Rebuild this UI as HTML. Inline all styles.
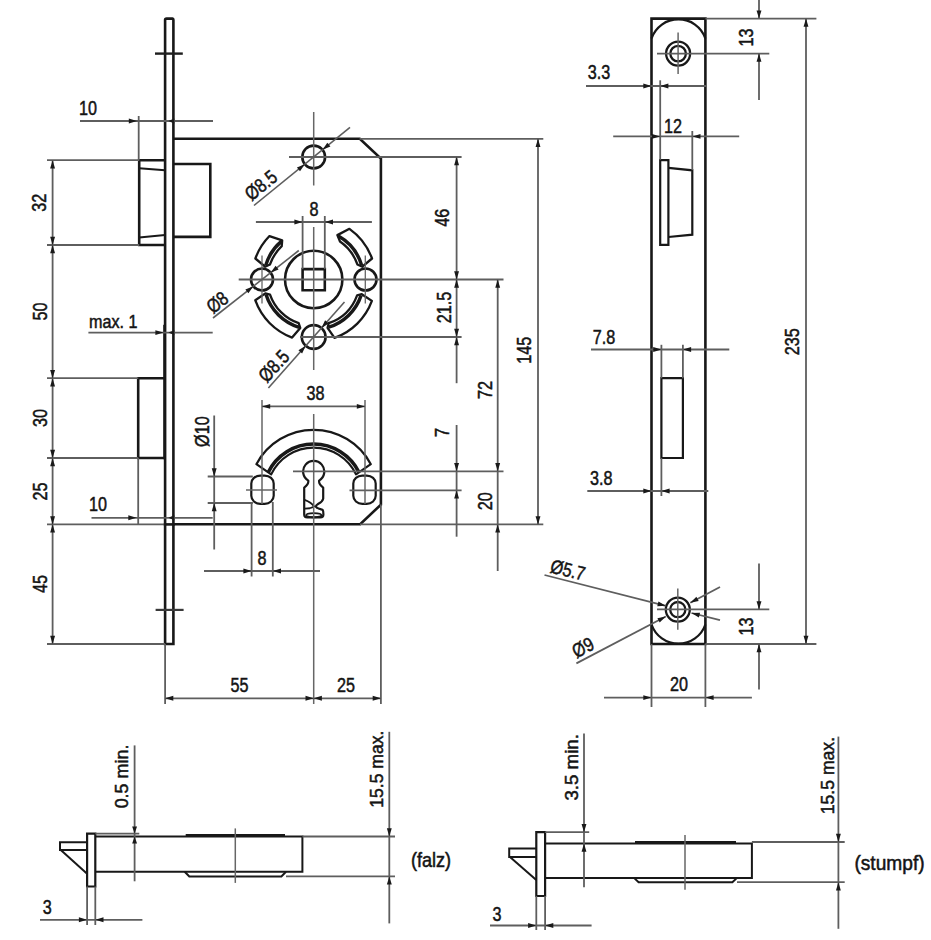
<!DOCTYPE html>
<html><head><meta charset="utf-8"><style>
html,body{margin:0;padding:0;background:#fff;}
svg{display:block;}
text{font-family:"Liberation Sans",sans-serif;}
</style></head><body>
<svg width="931" height="940" viewBox="0 0 931 940">
<rect width="931" height="940" fill="#fff"/>
<path d="M165.1,644 V19.8 Q165.1,18.6 166.6,18.6 H172.6 Q173.4,18.6 173.4,19.8 V644 Z" stroke="#181818" stroke-width="2.6" fill="none" stroke-linejoin="miter"/>
<line x1="164.4" y1="326" x2="164.4" y2="458" stroke="#181818" stroke-width="2.4" stroke-linecap="square"/>
<line x1="155" y1="53.6" x2="182.8" y2="53.6" stroke="#1e1e1e" stroke-width="2.4" stroke-linecap="butt"/>
<line x1="155.6" y1="609.9" x2="183.6" y2="609.9" stroke="#3a3a3a" stroke-width="2.2" stroke-linecap="butt"/>
<path d="M173.4,138.8 H359.8 L380.9,158.6 V504.6 L360.2,524.3 H173.4" stroke="#181818" stroke-width="2.6" fill="none" stroke-linejoin="miter"/>
<path d="M165.1,160.2 H139.2 V245 H165.1" stroke="#181818" stroke-width="2.6" fill="none" stroke-linejoin="miter"/>
<line x1="139.2" y1="168.3" x2="165.1" y2="170.3" stroke="#181818" stroke-width="2" stroke-linecap="butt"/>
<line x1="139.2" y1="237.4" x2="165.1" y2="235" stroke="#181818" stroke-width="2" stroke-linecap="butt"/>
<path d="M173.4,164 H210.3 V236.9 H173.4" stroke="#181818" stroke-width="2.6" fill="none" stroke-linejoin="miter"/>
<path d="M164.4,378.2 H138.2 V458 H164.4" stroke="#181818" stroke-width="2.6" fill="none" stroke-linejoin="miter"/>
<circle cx="313.7" cy="157" r="11.4" stroke="#181818" stroke-width="2.6" fill="none"/>
<circle cx="262" cy="279.5" r="11" stroke="#181818" stroke-width="2.6" fill="none"/>
<circle cx="365.5" cy="279.5" r="11" stroke="#181818" stroke-width="2.6" fill="none"/>
<circle cx="313.7" cy="337" r="11.9" stroke="#181818" stroke-width="2.6" fill="none"/>
<circle cx="313.7" cy="279.5" r="28.7" stroke="#181818" stroke-width="2.6" fill="none"/>
<path d="M302.6,269.1 H324.8 V290.3 H302.6 Z" stroke="#181818" stroke-width="2.6" fill="none" stroke-linejoin="miter"/>
<path d="M269.48,236.04 A62,62 0 0 0 255.37,258.5 L265.05,266.74 L270.02,264.46 A46.2,46.2 0 0 1 281.72,246.15 L282.18,240.3 Z" stroke="#181818" stroke-width="2.3" fill="none" stroke-linejoin="round"/>
<path d="M281.36,241.37 A50.0,50.0 0 0 0 265.69,265.55" stroke="#181818" stroke-width="3.4" fill="none" stroke-linejoin="miter"/>
<path d="M372.03,258.5 A62,62 0 0 0 349.44,228.84 L337.39,235.13 L340,241.52 A46.2,46.2 0 0 1 357.38,264.46 L362.35,266.74 Z" stroke="#181818" stroke-width="2.3" fill="none" stroke-linejoin="round"/>
<path d="M361.71,265.55 A50.0,50.0 0 0 0 338.4,236.03" stroke="#181818" stroke-width="3.4" fill="none" stroke-linejoin="miter"/>
<path d="M255.26,300.2 A62,62 0 0 0 292.09,337.61 L300.26,327.97 L298.66,323.18 A46.2,46.2 0 0 1 270.02,294.54 L265.35,293.36 Z" stroke="#181818" stroke-width="2.3" fill="none" stroke-linejoin="round"/>
<path d="M266.01,294.54 A50.0,50.0 0 0 0 299.08,327.32" stroke="#181818" stroke-width="3.4" fill="none" stroke-linejoin="miter"/>
<path d="M334.5,337.91 A62,62 0 0 0 371.89,300.91 L361.8,294.21 L357.11,295.3 A46.2,46.2 0 0 1 328.74,323.18 L327.56,327.85 Z" stroke="#181818" stroke-width="2.3" fill="none" stroke-linejoin="round"/>
<path d="M328.74,327.19 A50.0,50.0 0 0 0 361.12,295.37" stroke="#181818" stroke-width="3.4" fill="none" stroke-linejoin="miter"/>
<path d="M370.82,464.18 A64.8,64.8 0 0 0 256.38,464.18 L271.18,474.37 A47,47 0 0 1 356.02,474.37 Z" stroke="#181818" stroke-width="2.2" fill="none" stroke-linejoin="round"/>
<path d="M359.08,472.42 A50.6,50.6 0 0 0 268.12,472.42" stroke="#181818" stroke-width="3.6" fill="none" stroke-linejoin="miter"/>
<rect x="251.3" y="475.6" width="22.4" height="28.2" rx="9" ry="8" stroke="#181818" stroke-width="2.2" fill="none"/>
<rect x="353.3" y="475.6" width="22.4" height="28.2" rx="9" ry="8" stroke="#181818" stroke-width="2.2" fill="none"/>
<path d="M308.3,480.6 A10.6,10.6 0 1 1 319.1,480.6 Q318.6,484.4 323.2,487.6 V498.6 Q322.6,501.6 318.4,503.8 Q315.6,505.6 315.8,506.6 Q317,508.6 322.6,509.8 Q323.4,510.6 323.4,514.4 Q323.4,517.4 320.4,517.4 H307.2 Q304.2,517.4 304.2,514.4 V487.6 Q308.8,484.4 308.3,480.6 Z" stroke="#181818" stroke-width="2.2" fill="none" stroke-linejoin="round"/>
<path d="M304.6,499.8 Q311.4,502.4 314.2,506.4 Q311.6,508.6 304.6,508.6" stroke="#181818" stroke-width="1.8" fill="none" stroke-linejoin="round"/>
<ellipse cx="313.8" cy="515.2" rx="7.6" ry="2.1" stroke="#181818" stroke-width="1.8" fill="none"/>
<line x1="313.7" y1="112" x2="313.7" y2="185.5" stroke="#666" stroke-width="1.5" stroke-linecap="butt"/>
<line x1="289" y1="157" x2="461.6" y2="157" stroke="#5e5e5e" stroke-width="1.8" stroke-linecap="butt"/>
<line x1="313.7" y1="227" x2="313.7" y2="370" stroke="#666" stroke-width="1.5" stroke-linecap="butt"/>
<line x1="238.7" y1="279.5" x2="503.5" y2="279.5" stroke="#5e5e5e" stroke-width="1.8" stroke-linecap="butt"/>
<line x1="300" y1="337" x2="461.6" y2="337" stroke="#5e5e5e" stroke-width="1.8" stroke-linecap="butt"/>
<line x1="313.7" y1="414" x2="313.7" y2="704" stroke="#666" stroke-width="1.5" stroke-linecap="butt"/>
<line x1="262" y1="255.5" x2="262" y2="303.5" stroke="#666" stroke-width="1.3" stroke-linecap="butt"/>
<line x1="365.3" y1="255.5" x2="365.3" y2="303.5" stroke="#666" stroke-width="1.3" stroke-linecap="butt"/>
<line x1="293" y1="471.3" x2="503.5" y2="471.3" stroke="#5e5e5e" stroke-width="1.8" stroke-linecap="butt"/>
<line x1="246" y1="490" x2="277" y2="490" stroke="#666" stroke-width="1.5" stroke-linecap="butt"/>
<line x1="349.5" y1="490.4" x2="461.6" y2="490.4" stroke="#5e5e5e" stroke-width="1.8" stroke-linecap="butt"/>
<line x1="262" y1="400" x2="262" y2="504" stroke="#666" stroke-width="1.5" stroke-linecap="butt"/>
<line x1="365" y1="400" x2="365" y2="504" stroke="#666" stroke-width="1.5" stroke-linecap="butt"/>
<line x1="251.6" y1="502" x2="251.6" y2="576.5" stroke="#5e5e5e" stroke-width="1.8" stroke-linecap="butt"/>
<line x1="272.8" y1="502" x2="272.8" y2="576.5" stroke="#5e5e5e" stroke-width="1.8" stroke-linecap="butt"/>
<line x1="207.7" y1="476.5" x2="252.8" y2="476.5" stroke="#5e5e5e" stroke-width="1.8" stroke-linecap="butt"/>
<line x1="207.7" y1="503" x2="252.8" y2="503" stroke="#5e5e5e" stroke-width="1.8" stroke-linecap="butt"/>
<line x1="359.6" y1="138.8" x2="543.3" y2="138.8" stroke="#5e5e5e" stroke-width="1.8" stroke-linecap="butt"/>
<line x1="360" y1="524.4" x2="543.3" y2="524.4" stroke="#5e5e5e" stroke-width="1.8" stroke-linecap="butt"/>
<line x1="380.9" y1="504.6" x2="380.9" y2="704" stroke="#5e5e5e" stroke-width="1.8" stroke-linecap="butt"/>
<line x1="165.1" y1="644" x2="165.1" y2="704" stroke="#5e5e5e" stroke-width="1.8" stroke-linecap="butt"/>
<line x1="47" y1="160.2" x2="139.2" y2="160.2" stroke="#5e5e5e" stroke-width="1.8" stroke-linecap="butt"/>
<line x1="47" y1="245" x2="139.2" y2="245" stroke="#5e5e5e" stroke-width="1.8" stroke-linecap="butt"/>
<line x1="47" y1="378.2" x2="138.2" y2="378.2" stroke="#5e5e5e" stroke-width="1.8" stroke-linecap="butt"/>
<line x1="47" y1="458" x2="138.2" y2="458" stroke="#5e5e5e" stroke-width="1.8" stroke-linecap="butt"/>
<line x1="47" y1="524.4" x2="165.1" y2="524.4" stroke="#5e5e5e" stroke-width="1.8" stroke-linecap="butt"/>
<line x1="47" y1="644" x2="165.1" y2="644" stroke="#5e5e5e" stroke-width="1.8" stroke-linecap="butt"/>
<line x1="165.1" y1="524.4" x2="173.4" y2="524.4" stroke="#181818" stroke-width="2.6" stroke-linecap="square"/>
<line x1="138.7" y1="116" x2="138.7" y2="160.2" stroke="#5e5e5e" stroke-width="1.8" stroke-linecap="butt"/>
<line x1="138.2" y1="458" x2="138.2" y2="525" stroke="#5e5e5e" stroke-width="1.8" stroke-linecap="butt"/>
<line x1="80" y1="121" x2="213" y2="121" stroke="#5e5e5e" stroke-width="1.8" stroke-linecap="butt"/>
<polygon points="137,121 128.8,123.45 128.8,118.55" fill="#1a1a1a"/>
<polygon points="168.3,121 174.3,118.55 174.3,123.45" fill="#1a1a1a"/>
<line x1="52.6" y1="160.2" x2="52.6" y2="644" stroke="#5e5e5e" stroke-width="1.8" stroke-linecap="butt"/>
<polygon points="52.6,160.2 55.05,168.4 50.15,168.4" fill="#1a1a1a"/>
<polygon points="52.6,245 50.15,236.8 55.05,236.8" fill="#1a1a1a"/>
<polygon points="52.6,245 55.05,253.2 50.15,253.2" fill="#1a1a1a"/>
<polygon points="52.6,378.2 50.15,370 55.05,370" fill="#1a1a1a"/>
<polygon points="52.6,378.2 55.05,386.4 50.15,386.4" fill="#1a1a1a"/>
<polygon points="52.6,458 50.15,449.8 55.05,449.8" fill="#1a1a1a"/>
<polygon points="52.6,458 55.05,466.2 50.15,466.2" fill="#1a1a1a"/>
<polygon points="52.6,524.4 50.15,516.2 55.05,516.2" fill="#1a1a1a"/>
<polygon points="52.6,524.4 55.05,532.6 50.15,532.6" fill="#1a1a1a"/>
<polygon points="52.6,644 50.15,635.8 55.05,635.8" fill="#1a1a1a"/>
<line x1="88.4" y1="332.6" x2="212.7" y2="332.6" stroke="#5e5e5e" stroke-width="1.8" stroke-linecap="butt"/>
<polygon points="163.6,332.6 155.4,335.05 155.4,330.15" fill="#1a1a1a"/>
<polygon points="168.3,332.6 174.3,330.15 174.3,335.05" fill="#1a1a1a"/>
<line x1="91.5" y1="517.8" x2="212.7" y2="517.8" stroke="#5e5e5e" stroke-width="1.8" stroke-linecap="butt"/>
<polygon points="136.5,517.8 128.3,520.25 128.3,515.35" fill="#1a1a1a"/>
<polygon points="168.3,517.8 174.3,515.35 174.3,520.25" fill="#1a1a1a"/>
<line x1="214.2" y1="415.5" x2="214.2" y2="549.5" stroke="#5e5e5e" stroke-width="1.8" stroke-linecap="butt"/>
<polygon points="214.2,476.5 211.75,468.3 216.65,468.3" fill="#1a1a1a"/>
<polygon points="214.2,503 216.65,511.2 211.75,511.2" fill="#1a1a1a"/>
<line x1="302.6" y1="216" x2="302.6" y2="269.1" stroke="#5e5e5e" stroke-width="1.8" stroke-linecap="butt"/>
<line x1="324.8" y1="216" x2="324.8" y2="269.1" stroke="#5e5e5e" stroke-width="1.8" stroke-linecap="butt"/>
<line x1="255.9" y1="222" x2="371.9" y2="222" stroke="#5e5e5e" stroke-width="1.8" stroke-linecap="butt"/>
<polygon points="302.6,222 294.4,224.45 294.4,219.55" fill="#1a1a1a"/>
<polygon points="324.8,222 333,219.55 333,224.45" fill="#1a1a1a"/>
<line x1="204" y1="571" x2="320" y2="571" stroke="#5e5e5e" stroke-width="1.8" stroke-linecap="butt"/>
<polygon points="251.6,571 243.4,573.45 243.4,568.55" fill="#1a1a1a"/>
<polygon points="272.8,571 281,568.55 281,573.45" fill="#1a1a1a"/>
<line x1="262" y1="406.4" x2="365" y2="406.4" stroke="#5e5e5e" stroke-width="1.8" stroke-linecap="butt"/>
<polygon points="262,406.4 270.2,403.95 270.2,408.85" fill="#1a1a1a"/>
<polygon points="365,406.4 356.8,408.85 356.8,403.95" fill="#1a1a1a"/>
<line x1="165.1" y1="698.3" x2="380.9" y2="698.3" stroke="#5e5e5e" stroke-width="1.8" stroke-linecap="butt"/>
<polygon points="165.1,698.3 173.3,695.85 173.3,700.75" fill="#1a1a1a"/>
<polygon points="313.7,698.3 305.5,700.75 305.5,695.85" fill="#1a1a1a"/>
<polygon points="313.7,698.3 321.9,695.85 321.9,700.75" fill="#1a1a1a"/>
<polygon points="380.9,698.3 372.7,700.75 372.7,695.85" fill="#1a1a1a"/>
<line x1="456.6" y1="157" x2="456.6" y2="383.2" stroke="#5e5e5e" stroke-width="1.8" stroke-linecap="butt"/>
<polygon points="456.6,157 459.05,165.2 454.15,165.2" fill="#1a1a1a"/>
<polygon points="456.6,279.5 454.15,271.3 459.05,271.3" fill="#1a1a1a"/>
<polygon points="456.6,279.5 459.05,287.7 454.15,287.7" fill="#1a1a1a"/>
<polygon points="456.6,337 454.15,328.8 459.05,328.8" fill="#1a1a1a"/>
<polygon points="456.6,337 459.05,345.2 454.15,345.2" fill="#1a1a1a"/>
<line x1="456.6" y1="425" x2="456.6" y2="536.7" stroke="#5e5e5e" stroke-width="1.8" stroke-linecap="butt"/>
<polygon points="456.6,471.3 454.15,463.1 459.05,463.1" fill="#1a1a1a"/>
<polygon points="456.6,490.4 459.05,498.6 454.15,498.6" fill="#1a1a1a"/>
<line x1="497.7" y1="279.5" x2="497.7" y2="571" stroke="#5e5e5e" stroke-width="1.8" stroke-linecap="butt"/>
<polygon points="497.7,279.5 500.15,287.7 495.25,287.7" fill="#1a1a1a"/>
<polygon points="497.7,471.3 495.25,463.1 500.15,463.1" fill="#1a1a1a"/>
<polygon points="497.7,524.4 500.15,532.6 495.25,532.6" fill="#1a1a1a"/>
<line x1="538" y1="138.8" x2="538" y2="524.4" stroke="#5e5e5e" stroke-width="1.8" stroke-linecap="butt"/>
<polygon points="538,138.8 540.45,147 535.55,147" fill="#1a1a1a"/>
<polygon points="538,524.4 535.55,516.2 540.45,516.2" fill="#1a1a1a"/>
<line x1="254" y1="205.5" x2="350" y2="127.4" stroke="#5e5e5e" stroke-width="1.6" stroke-linecap="butt"/>
<polygon points="304.82,164.15 300.01,171.23 296.92,167.43" fill="#1a1a1a"/>
<polygon points="322.51,149.76 327.32,142.69 330.42,146.49" fill="#1a1a1a"/>
<line x1="213" y1="318" x2="298.8" y2="250.5" stroke="#5e5e5e" stroke-width="1.6" stroke-linecap="butt"/>
<polygon points="253.33,286.27 248.4,293.27 245.37,289.42" fill="#1a1a1a"/>
<polygon points="270.62,272.67 275.55,265.67 278.58,269.52" fill="#1a1a1a"/>
<line x1="268.4" y1="388" x2="344.5" y2="302" stroke="#5e5e5e" stroke-width="1.6" stroke-linecap="butt"/>
<polygon points="305.72,345.83 302.12,353.59 298.45,350.34" fill="#1a1a1a"/>
<polygon points="321.49,328 325.09,320.24 328.76,323.49" fill="#1a1a1a"/>
<path d="M651.5,18.6 H705.4 V644 H651.5 Z" stroke="#181818" stroke-width="2.6" fill="none" stroke-linejoin="miter"/>
<path d="M651.5,38.5 A28.5,28.5 0 0 1 705.4,38.5" stroke="#181818" stroke-width="2.3" fill="none" stroke-linejoin="miter"/>
<path d="M651.5,624.5 A28.5,28.5 0 0 0 705.4,624.5" stroke="#181818" stroke-width="2.3" fill="none" stroke-linejoin="miter"/>
<circle cx="678.1" cy="53.6" r="12" stroke="#181818" stroke-width="2.3" fill="none"/>
<circle cx="678.1" cy="53.6" r="7.8" stroke="#181818" stroke-width="2.3" fill="none"/>
<circle cx="677.8" cy="609.6" r="12" stroke="#181818" stroke-width="2.3" fill="none"/>
<circle cx="677.8" cy="609.6" r="7.6" stroke="#181818" stroke-width="2.3" fill="none"/>
<line x1="678.1" y1="32.6" x2="678.1" y2="73.9" stroke="#666" stroke-width="1.5" stroke-linecap="butt"/>
<line x1="657" y1="53.6" x2="769.3" y2="53.6" stroke="#5e5e5e" stroke-width="1.8" stroke-linecap="butt"/>
<line x1="677.8" y1="588.6" x2="677.8" y2="629.8" stroke="#666" stroke-width="1.5" stroke-linecap="butt"/>
<line x1="657" y1="609.4" x2="769.3" y2="609.4" stroke="#5e5e5e" stroke-width="1.8" stroke-linecap="butt"/>
<path d="M660.2,244.9 V160.1 H668.4 V244.9 Z" stroke="#181818" stroke-width="2.2" fill="none" stroke-linejoin="miter"/>
<path d="M668.4,167.9 L692.3,170.3 V234.7 L668.4,237" stroke="#181818" stroke-width="2.2" fill="none" stroke-linejoin="miter"/>
<path d="M661.4,378.2 H682.9 V458 H661.4 Z" stroke="#181818" stroke-width="2.2" fill="none" stroke-linejoin="miter"/>
<line x1="705.4" y1="18.6" x2="816.4" y2="18.6" stroke="#5e5e5e" stroke-width="1.8" stroke-linecap="butt"/>
<line x1="705.4" y1="644" x2="816.4" y2="644" stroke="#5e5e5e" stroke-width="1.8" stroke-linecap="butt"/>
<line x1="759" y1="0" x2="759" y2="18.6" stroke="#5e5e5e" stroke-width="1.8" stroke-linecap="butt"/>
<polygon points="759,18.6 756.55,10.4 761.45,10.4" fill="#1a1a1a"/>
<line x1="759" y1="53.6" x2="759" y2="100" stroke="#5e5e5e" stroke-width="1.8" stroke-linecap="butt"/>
<polygon points="759,53.6 761.45,61.8 756.55,61.8" fill="#1a1a1a"/>
<line x1="806" y1="18.6" x2="806" y2="644" stroke="#5e5e5e" stroke-width="1.8" stroke-linecap="butt"/>
<polygon points="806,18.6 808.45,26.8 803.55,26.8" fill="#1a1a1a"/>
<polygon points="806,644 803.55,635.8 808.45,635.8" fill="#1a1a1a"/>
<line x1="759" y1="563.4" x2="759" y2="609.4" stroke="#5e5e5e" stroke-width="1.8" stroke-linecap="butt"/>
<polygon points="759,609.4 756.55,601.2 761.45,601.2" fill="#1a1a1a"/>
<line x1="759" y1="644" x2="759" y2="689.5" stroke="#5e5e5e" stroke-width="1.8" stroke-linecap="butt"/>
<polygon points="759,644 761.45,652.2 756.55,652.2" fill="#1a1a1a"/>
<line x1="586" y1="86" x2="707" y2="86" stroke="#5e5e5e" stroke-width="1.8" stroke-linecap="butt"/>
<polygon points="651.5,86 643.3,88.45 643.3,83.55" fill="#1a1a1a"/>
<polygon points="660.2,86 668.4,83.55 668.4,88.45" fill="#1a1a1a"/>
<line x1="660.2" y1="80.3" x2="660.2" y2="159.8" stroke="#5e5e5e" stroke-width="1.8" stroke-linecap="butt"/>
<line x1="613.2" y1="136.4" x2="739.2" y2="136.4" stroke="#5e5e5e" stroke-width="1.8" stroke-linecap="butt"/>
<polygon points="660.2,136.4 652,138.85 652,133.95" fill="#1a1a1a"/>
<polygon points="692.3,136.4 700.5,133.95 700.5,138.85" fill="#1a1a1a"/>
<line x1="692.3" y1="131" x2="692.3" y2="170.1" stroke="#5e5e5e" stroke-width="1.8" stroke-linecap="butt"/>
<line x1="591" y1="349.5" x2="729.3" y2="349.5" stroke="#5e5e5e" stroke-width="1.8" stroke-linecap="butt"/>
<polygon points="661.4,349.5 653.2,351.95 653.2,347.05" fill="#1a1a1a"/>
<polygon points="682.9,349.5 691.1,347.05 691.1,351.95" fill="#1a1a1a"/>
<line x1="661.4" y1="344.8" x2="661.4" y2="378.2" stroke="#5e5e5e" stroke-width="1.8" stroke-linecap="butt"/>
<line x1="682.9" y1="344.8" x2="682.9" y2="378.2" stroke="#5e5e5e" stroke-width="1.8" stroke-linecap="butt"/>
<line x1="587.3" y1="491" x2="708.3" y2="491" stroke="#5e5e5e" stroke-width="1.8" stroke-linecap="butt"/>
<polygon points="651.5,491 643.3,493.45 643.3,488.55" fill="#1a1a1a"/>
<polygon points="661.4,491 669.6,488.55 669.6,493.45" fill="#1a1a1a"/>
<line x1="661.4" y1="458" x2="661.4" y2="496" stroke="#5e5e5e" stroke-width="1.8" stroke-linecap="butt"/>
<line x1="604" y1="697.6" x2="751.9" y2="697.6" stroke="#5e5e5e" stroke-width="1.8" stroke-linecap="butt"/>
<polygon points="651.5,697.6 643.3,700.05 643.3,695.15" fill="#1a1a1a"/>
<polygon points="705.4,697.6 713.6,695.15 713.6,700.05" fill="#1a1a1a"/>
<line x1="651.5" y1="644" x2="651.5" y2="707" stroke="#5e5e5e" stroke-width="1.8" stroke-linecap="butt"/>
<line x1="705.4" y1="644" x2="705.4" y2="707" stroke="#5e5e5e" stroke-width="1.8" stroke-linecap="butt"/>
<line x1="544.5" y1="575" x2="665.8" y2="605.8" stroke="#5e5e5e" stroke-width="1.8" stroke-linecap="butt"/>
<polygon points="665.8,605.8 657.25,606.16 658.46,601.41" fill="#1a1a1a"/>
<line x1="720" y1="620.2" x2="691.5" y2="613" stroke="#5e5e5e" stroke-width="1.8" stroke-linecap="butt"/>
<polygon points="691.5,613 700.05,612.63 698.85,617.38" fill="#1a1a1a"/>
<line x1="576.4" y1="663.4" x2="665.8" y2="616.5" stroke="#5e5e5e" stroke-width="1.8" stroke-linecap="butt"/>
<polygon points="665.8,616.5 659.68,622.48 657.4,618.14" fill="#1a1a1a"/>
<line x1="720" y1="587" x2="690.3" y2="602.8" stroke="#5e5e5e" stroke-width="1.8" stroke-linecap="butt"/>
<polygon points="690.3,602.8 696.39,596.79 698.69,601.11" fill="#1a1a1a"/>
<path d="M87.1,833.6 H95.3 V886.5 H87.1 Z" stroke="#181818" stroke-width="2.2" fill="none" stroke-linejoin="miter"/>
<path d="M87.1,842.2 H60 V850.1 H87.1" stroke="#181818" stroke-width="2.0" fill="none" stroke-linejoin="miter"/>
<line x1="60.8" y1="850.1" x2="87.1" y2="873.7" stroke="#181818" stroke-width="2.0" stroke-linecap="butt"/>
<path d="M95.3,836.5 H302.4 V871.7 H95.3" stroke="#181818" stroke-width="2.0" fill="none" stroke-linejoin="miter"/>
<line x1="185.7" y1="835.1" x2="285" y2="835.1" stroke="#181818" stroke-width="2.0" stroke-linecap="butt"/>
<path d="M184.7,871.7 L189.29999999999998,876.5 H281.4 L286,871.7" stroke="#181818" stroke-width="2.0" fill="none" stroke-linejoin="miter"/>
<line x1="235.3" y1="828.4" x2="235.3" y2="882.9" stroke="#666" stroke-width="1.5" stroke-linecap="butt"/>
<line x1="95.3" y1="833.6" x2="139.3" y2="833.6" stroke="#5e5e5e" stroke-width="1.8" stroke-linecap="butt"/>
<line x1="134.6" y1="745.4" x2="134.6" y2="881.3" stroke="#5e5e5e" stroke-width="1.8" stroke-linecap="butt"/>
<polygon points="134.6,833.6 132.15,826.6 137.05,826.6" fill="#1a1a1a"/>
<polygon points="134.6,836.5 137.05,843.5 132.15,843.5" fill="#1a1a1a"/>
<line x1="302.4" y1="836.5" x2="395" y2="836.5" stroke="#5e5e5e" stroke-width="1.8" stroke-linecap="butt"/>
<line x1="286" y1="876.4" x2="395" y2="876.4" stroke="#5e5e5e" stroke-width="1.8" stroke-linecap="butt"/>
<line x1="389.3" y1="731.8" x2="389.3" y2="923.4" stroke="#5e5e5e" stroke-width="1.8" stroke-linecap="butt"/>
<polygon points="389.3,836.5 386.85,828.3 391.75,828.3" fill="#1a1a1a"/>
<polygon points="389.3,876.4 391.75,884.6 386.85,884.6" fill="#1a1a1a"/>
<line x1="40" y1="919.8" x2="142.4" y2="919.8" stroke="#5e5e5e" stroke-width="1.8" stroke-linecap="butt"/>
<polygon points="87.1,919.8 78.9,922.25 78.9,917.35" fill="#1a1a1a"/>
<polygon points="95.3,919.8 103.5,917.35 103.5,922.25" fill="#1a1a1a"/>
<line x1="87.1" y1="886.5" x2="87.1" y2="925" stroke="#5e5e5e" stroke-width="1.8" stroke-linecap="butt"/>
<line x1="95.3" y1="886.5" x2="95.3" y2="925" stroke="#5e5e5e" stroke-width="1.8" stroke-linecap="butt"/>
<path d="M536.3,832.2 H545.1 V896 H536.3 Z" stroke="#181818" stroke-width="2.2" fill="none" stroke-linejoin="miter"/>
<path d="M536.3,848.5 H509.2 V856.9 H536.3" stroke="#181818" stroke-width="2.0" fill="none" stroke-linejoin="miter"/>
<line x1="510" y1="856.9" x2="536.3" y2="880" stroke="#181818" stroke-width="2.0" stroke-linecap="butt"/>
<path d="M545.1,843.5 H751.9 V877.9 H545.1" stroke="#181818" stroke-width="2.0" fill="none" stroke-linejoin="miter"/>
<line x1="635" y1="842.1" x2="736" y2="842.1" stroke="#181818" stroke-width="2.0" stroke-linecap="butt"/>
<path d="M634,877.9 L638.6,882.3 H732.4 L737,877.9" stroke="#181818" stroke-width="2.0" fill="none" stroke-linejoin="miter"/>
<line x1="685" y1="835" x2="685" y2="889.7" stroke="#666" stroke-width="1.5" stroke-linecap="butt"/>
<line x1="545.1" y1="832.2" x2="589.2" y2="832.2" stroke="#5e5e5e" stroke-width="1.8" stroke-linecap="butt"/>
<line x1="584" y1="733.6" x2="584" y2="887.2" stroke="#5e5e5e" stroke-width="1.8" stroke-linecap="butt"/>
<polygon points="584,832.2 581.55,824 586.45,824" fill="#1a1a1a"/>
<polygon points="584,843.5 586.45,851.7 581.55,851.7" fill="#1a1a1a"/>
<line x1="751.9" y1="842" x2="844.7" y2="842" stroke="#5e5e5e" stroke-width="1.8" stroke-linecap="butt"/>
<line x1="737" y1="882.2" x2="844.7" y2="882.2" stroke="#5e5e5e" stroke-width="1.8" stroke-linecap="butt"/>
<line x1="838.4" y1="736.6" x2="838.4" y2="928.8" stroke="#5e5e5e" stroke-width="1.8" stroke-linecap="butt"/>
<polygon points="838.4,842 835.95,833.8 840.85,833.8" fill="#1a1a1a"/>
<polygon points="838.4,882.2 840.85,890.4 835.95,890.4" fill="#1a1a1a"/>
<line x1="490" y1="925.5" x2="591.6" y2="925.5" stroke="#5e5e5e" stroke-width="1.8" stroke-linecap="butt"/>
<polygon points="536.3,925.5 528.1,927.95 528.1,923.05" fill="#1a1a1a"/>
<polygon points="545.1,925.5 553.3,923.05 553.3,927.95" fill="#1a1a1a"/>
<line x1="536.3" y1="896" x2="536.3" y2="930" stroke="#5e5e5e" stroke-width="1.8" stroke-linecap="butt"/>
<line x1="545.1" y1="896" x2="545.1" y2="930" stroke="#5e5e5e" stroke-width="1.8" stroke-linecap="butt"/>
<text transform="translate(88,108.5) rotate(0) translate(-8.98,6.73) scale(0.83,1)" x="0" y="0" font-size="19.5" fill="#141414" stroke="#141414" stroke-width="0.5">10</text>
<text transform="translate(98,504.5) rotate(0) translate(-8.98,6.73) scale(0.83,1)" x="0" y="0" font-size="19.5" fill="#141414" stroke="#141414" stroke-width="0.5">10</text>
<text transform="translate(314,209) rotate(0) translate(-4.49,6.73) scale(0.83,1)" x="0" y="0" font-size="19.5" fill="#141414" stroke="#141414" stroke-width="0.5">8</text>
<text transform="translate(315.5,393.5) rotate(0) translate(-8.98,6.73) scale(0.83,1)" x="0" y="0" font-size="19.5" fill="#141414" stroke="#141414" stroke-width="0.5">38</text>
<text transform="translate(261.9,558.5) rotate(0) translate(-4.49,6.73) scale(0.83,1)" x="0" y="0" font-size="19.5" fill="#141414" stroke="#141414" stroke-width="0.5">8</text>
<text transform="translate(239.5,685.8) rotate(0) translate(-8.98,6.63) scale(0.83,1)" x="0" y="0" font-size="19.5" fill="#141414" stroke="#141414" stroke-width="0.5">55</text>
<text transform="translate(346,685.6) rotate(0) translate(-8.98,6.73) scale(0.83,1)" x="0" y="0" font-size="19.5" fill="#141414" stroke="#141414" stroke-width="0.5">25</text>
<text transform="translate(599,72.2) rotate(0) translate(-11.25,6.73) scale(0.83,1)" x="0" y="0" font-size="19.5" fill="#141414" stroke="#141414" stroke-width="0.5">3.3</text>
<text transform="translate(673.1,126) rotate(0) translate(-8.98,6.83) scale(0.83,1)" x="0" y="0" font-size="19.5" fill="#141414" stroke="#141414" stroke-width="0.5">12</text>
<text transform="translate(604,337) rotate(0) translate(-11.25,6.73) scale(0.83,1)" x="0" y="0" font-size="19.5" fill="#141414" stroke="#141414" stroke-width="0.5">7.8</text>
<text transform="translate(601.2,478.5) rotate(0) translate(-11.25,6.73) scale(0.83,1)" x="0" y="0" font-size="19.5" fill="#141414" stroke="#141414" stroke-width="0.5">3.8</text>
<text transform="translate(679,684.5) rotate(0) translate(-8.98,6.73) scale(0.83,1)" x="0" y="0" font-size="19.5" fill="#141414" stroke="#141414" stroke-width="0.5">20</text>
<text transform="translate(47.2,906.9) rotate(0) translate(-4.49,6.73) scale(0.83,1)" x="0" y="0" font-size="19.5" fill="#141414" stroke="#141414" stroke-width="0.5">3</text>
<text transform="translate(496.9,913.8) rotate(0) translate(-4.49,6.73) scale(0.83,1)" x="0" y="0" font-size="19.5" fill="#141414" stroke="#141414" stroke-width="0.5">3</text>
<text transform="translate(38.8,202.8) rotate(-90) translate(-8.98,6.73) scale(0.83,1)" x="0" y="0" font-size="19.5" fill="#141414" stroke="#141414" stroke-width="0.5">32</text>
<text transform="translate(40,311.5) rotate(-90) translate(-8.98,6.73) scale(0.83,1)" x="0" y="0" font-size="19.5" fill="#141414" stroke="#141414" stroke-width="0.5">50</text>
<text transform="translate(40,418) rotate(-90) translate(-8.98,6.73) scale(0.83,1)" x="0" y="0" font-size="19.5" fill="#141414" stroke="#141414" stroke-width="0.5">30</text>
<text transform="translate(40,491.5) rotate(-90) translate(-8.98,6.73) scale(0.83,1)" x="0" y="0" font-size="19.5" fill="#141414" stroke="#141414" stroke-width="0.5">25</text>
<text transform="translate(40,584) rotate(-90) translate(-8.98,6.63) scale(0.83,1)" x="0" y="0" font-size="19.5" fill="#141414" stroke="#141414" stroke-width="0.5">45</text>
<text transform="translate(202.5,431.6) rotate(-90) translate(-15.29,6.73) scale(0.83,1)" x="0" y="0" font-size="19.5" fill="#141414" stroke="#141414" stroke-width="0.5">Ø10</text>
<text transform="translate(442.3,217.7) rotate(-90) translate(-8.98,6.73) scale(0.83,1)" x="0" y="0" font-size="19.5" fill="#141414" stroke="#141414" stroke-width="0.5">46</text>
<text transform="translate(444,307.4) rotate(-90) translate(-15.74,6.73) scale(0.83,1)" x="0" y="0" font-size="19.5" fill="#141414" stroke="#141414" stroke-width="0.5">21.5</text>
<text transform="translate(442,432.5) rotate(-90) translate(-4.49,6.73) scale(0.83,1)" x="0" y="0" font-size="19.5" fill="#141414" stroke="#141414" stroke-width="0.5">7</text>
<text transform="translate(485,390) rotate(-90) translate(-8.98,6.83) scale(0.83,1)" x="0" y="0" font-size="19.5" fill="#141414" stroke="#141414" stroke-width="0.5">72</text>
<text transform="translate(524.5,350.3) rotate(-90) translate(-13.51,6.63) scale(0.83,1)" x="0" y="0" font-size="19.5" fill="#141414" stroke="#141414" stroke-width="0.5">145</text>
<text transform="translate(485,501.2) rotate(-90) translate(-8.98,6.73) scale(0.83,1)" x="0" y="0" font-size="19.5" fill="#141414" stroke="#141414" stroke-width="0.5">20</text>
<text transform="translate(746,37.4) rotate(-90) translate(-8.98,6.73) scale(0.83,1)" x="0" y="0" font-size="19.5" fill="#141414" stroke="#141414" stroke-width="0.5">13</text>
<text transform="translate(792.6,341.7) rotate(-90) translate(-13.51,6.73) scale(0.83,1)" x="0" y="0" font-size="19.5" fill="#141414" stroke="#141414" stroke-width="0.5">235</text>
<text transform="translate(746,626.5) rotate(-90) translate(-8.98,6.73) scale(0.83,1)" x="0" y="0" font-size="19.5" fill="#141414" stroke="#141414" stroke-width="0.5">13</text>
<text transform="translate(113.3,321.4) rotate(0) translate(-24.25,6.19) scale(0.8882783882783882,1)" x="0" y="0" font-size="18.2" fill="#141414" stroke="#141414" stroke-width="0.5">max. 1</text>
<text transform="translate(431,861.5) rotate(0) translate(-20.1,5.02) scale(0.9286209286209287,1)" x="0" y="0" font-size="19.5" fill="#141414" stroke="#141414" stroke-width="0.5">(falz)</text>
<text transform="translate(889.5,864.7) rotate(0) translate(-35.1,5.02) scale(0.9822646657571624,1)" x="0" y="0" font-size="19.5" fill="#141414" stroke="#141414" stroke-width="0.5">(stumpf)</text>
<text transform="translate(121.8,776.5) rotate(-90) translate(-31.85,6.58) scale(0.9738274322754237,1)" x="0" y="0" font-size="18.4" fill="#141414" stroke="#141414" stroke-width="0.5">0.5 min.</text>
<text transform="translate(376.5,769.1) rotate(-90) translate(-38.55,6.26) scale(0.9544914330989402,1)" x="0" y="0" font-size="18.4" fill="#141414" stroke="#141414" stroke-width="0.5">15.5 max.</text>
<text transform="translate(571.5,767.3) rotate(-90) translate(-33.3,6.58) scale(1.0181618051733627,1)" x="0" y="0" font-size="18.4" fill="#141414" stroke="#141414" stroke-width="0.5">3.5 min.</text>
<text transform="translate(827.7,775.6) rotate(-90) translate(-38.65,6.26) scale(0.9569674160641775,1)" x="0" y="0" font-size="18.4" fill="#141414" stroke="#141414" stroke-width="0.5">15.5 max.</text>
<text transform="translate(261,185.2) rotate(-39) translate(-17.56,6.73) scale(0.83,1)" x="0" y="0" font-size="19.5" fill="#141414" stroke="#141414" stroke-width="0.5">Ø8.5</text>
<text transform="translate(217.3,302.2) rotate(-38) translate(-10.8,6.73) scale(0.83,1)" x="0" y="0" font-size="19.5" fill="#141414" stroke="#141414" stroke-width="0.5">Ø8</text>
<text transform="translate(273.7,366) rotate(-47) translate(-17.56,6.73) scale(0.83,1)" x="0" y="0" font-size="19.5" fill="#141414" stroke="#141414" stroke-width="0.5">Ø8.5</text>
<text transform="translate(568,570) rotate(14.2) translate(-17.56,6.73) scale(0.83,1)" x="0" y="0" font-size="19.5" fill="#141414" stroke="#141414" stroke-width="0.5">Ø5.7</text>
<text transform="translate(583,647.5) rotate(-28) translate(-10.8,6.73) scale(0.83,1)" x="0" y="0" font-size="19.5" fill="#141414" stroke="#141414" stroke-width="0.5">Ø9</text>
</svg>
</body></html>
